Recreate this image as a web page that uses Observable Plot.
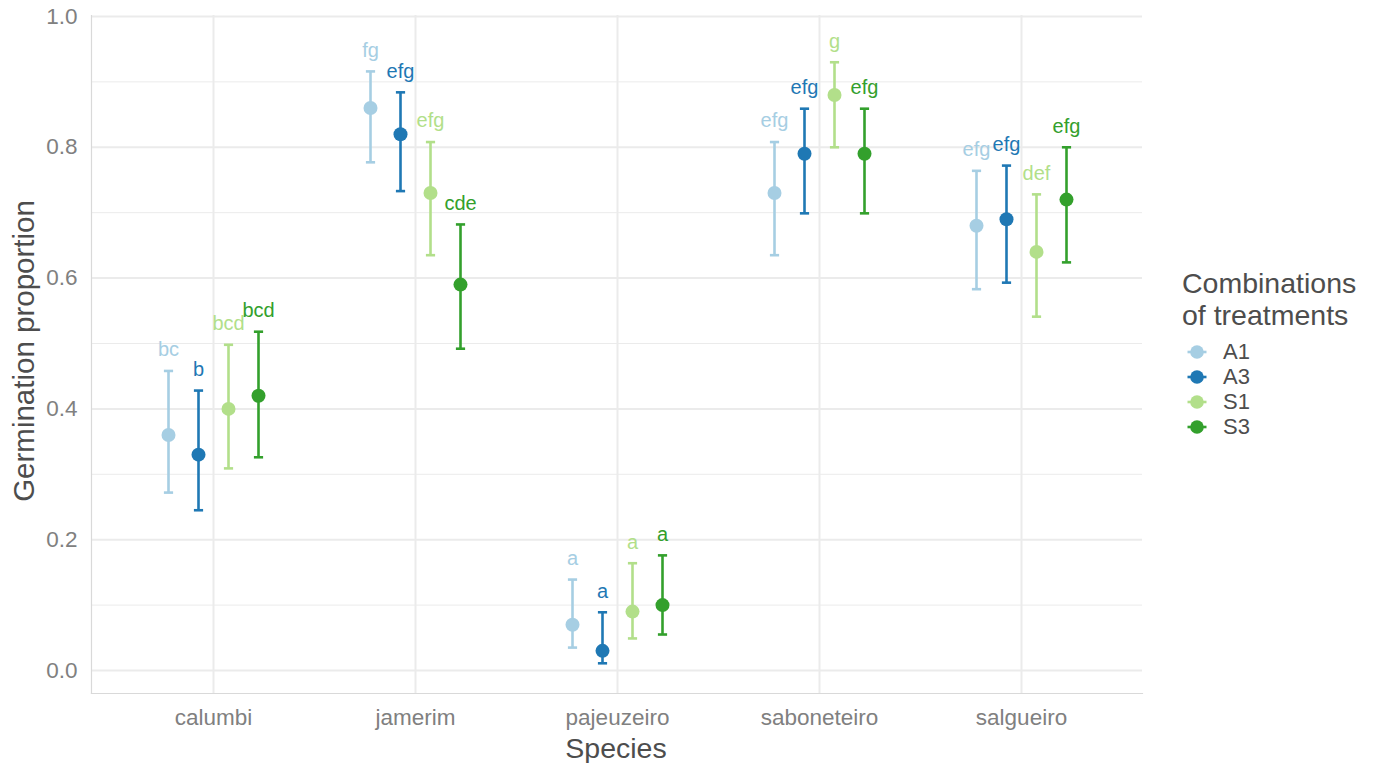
<!DOCTYPE html>
<html>
<head>
<meta charset="utf-8">
<script src="https://cdn.jsdelivr.net/npm/d3@7"></script>
<script src="https://cdn.jsdelivr.net/npm/@observablehq/plot@0.6"></script>
<style>
  html, body { margin: 0; padding: 0; background: #fff; }
  body { font-family: "Liberation Sans", Arial, sans-serif; width: 1378px; height: 763px; position: relative; overflow: hidden; }
  #chart { position: absolute; left: 0; top: 0; }
  #legend { position: absolute; left: 1182px; top: 267px; color: #4d4d4d; }
  #legend .title { font-size: 28.5px; line-height: 32px; margin-bottom: 8.5px; white-space: nowrap; }
  #legend .item { display: flex; align-items: center; height: 25px; font-size: 22px; color: #4d4d4d; }
  #legend svg { margin-left: 4px; margin-right: 15px; }
  #ytitle { position: absolute; left: 24px; top: 351px; transform: translate(-50%, -50%) rotate(-90deg); font-size: 29.5px; color: #4d4d4d; white-space: nowrap; }
  #xtitle { position: absolute; left: 616px; top: 748px; transform: translate(-50%, -50%); font-size: 28.5px; color: #4d4d4d; white-space: nowrap; }
</style>
</head>
<body>
<div id="chart"></div>
<div id="ytitle">Germination proportion</div>
<div id="xtitle">Species</div>
<div id="legend"></div>
<script>
const species = ["calumbi", "jamerim", "pajeuzeiro", "saboneteiro", "salgueiro"];
const treatments = ["A1", "A3", "S1", "S3"];
const colors = ["#a6cee3", "#1f78b4", "#b2df8a", "#33a02c"];

// values per treatment, in species order
const meanA1 = [0.36, 0.86, 0.07, 0.73, 0.68];
const lowA1  = [0.272, 0.777, 0.035, 0.635, 0.583];
const highA1 = [0.458, 0.916, 0.139, 0.808, 0.764];
const letA1  = ["bc", "fg", "a", "efg", "efg"];

const meanA3 = [0.33, 0.82, 0.03, 0.79, 0.69];
const lowA3  = [0.245, 0.733, 0.011, 0.699, 0.593];
const highA3 = [0.428, 0.884, 0.089, 0.859, 0.772];
const letA3  = ["b", "efg", "a", "efg", "efg"];

const meanS1 = [0.40, 0.73, 0.09, 0.88, 0.64];
const lowS1  = [0.309, 0.635, 0.049, 0.80, 0.541];
const highS1 = [0.498, 0.808, 0.164, 0.93, 0.728];
const letS1  = ["bcd", "efg", "a", "g", "def"];

const meanS3 = [0.42, 0.59, 0.10, 0.79, 0.72];
const lowS3  = [0.326, 0.492, 0.055, 0.699, 0.624];
const highS3 = [0.518, 0.682, 0.176, 0.859, 0.80];
const letS3  = ["bcd", "cde", "a", "efg", "efg"];

const yTicks = [0, 0.2, 0.4, 0.6, 0.8, 1.0];
const yMinor = [0.1, 0.3, 0.5, 0.7, 0.9];

const series = {
  A1: [meanA1, lowA1, highA1, letA1],
  A3: [meanA3, lowA3, highA3, letA3],
  S1: [meanS1, lowS1, highS1, letS1],
  S3: [meanS3, lowS3, highS3, letS3]
};

const rows = [];
treatments.forEach(t => {
  const [m, lo, hi, le] = series[t];
  species.forEach((s, i) => rows.push({species: s, treatment: t, mean: m[i], low: lo[i], high: hi[i], letter: le[i]}));
});

const offsets = {A1: -45, A3: -15, S1: 15, S3: 45};
const colorOf = t => colors[treatments.indexOf(t)];

// horizontal cap symbol for error bars
const capSymbol = {
  draw(context) {
    context.moveTo(-4.6, 0);
    context.lineTo(4.6, 0);
  }
};

const marks = [
  Plot.gridY(yMinor, {stroke: "#ebebeb", strokeOpacity: 1, strokeWidth: 1}),
  Plot.gridY(yTicks, {stroke: "#ebebeb", strokeOpacity: 1, strokeWidth: 2}),
  Plot.gridX(species, {stroke: "#ebebeb", strokeOpacity: 1, strokeWidth: 2}),
  Plot.frame({anchor: "left", stroke: "#d9d9d9", strokeWidth: 1.2}),
  Plot.frame({anchor: "bottom", stroke: "#d9d9d9", strokeWidth: 1.2})
];

treatments.forEach(t => {
  const d = rows.filter(r => r.treatment === t);
  const c = colorOf(t);
  const dx = offsets[t];
  marks.push(
    Plot.ruleX(d, {x: "species", y1: "low", y2: "high", stroke: c, strokeWidth: 2.6, dx}),
    Plot.dot(d, {x: "species", y: "low", symbol: capSymbol, stroke: c, fill: "none", strokeWidth: 2.6, dx}),
    Plot.dot(d, {x: "species", y: "high", symbol: capSymbol, stroke: c, fill: "none", strokeWidth: 2.6, dx}),
    Plot.dot(d, {x: "species", y: "mean", r: 7, fill: c, stroke: "none", dx}),
    Plot.text(d, {x: "species", y: "high", text: "letter", fill: c, dx, dy: -21, fontSize: 20})
  );
});

const chart = Plot.plot({
  width: 1150,
  height: 763,
  marginLeft: 91,
  marginRight: 8,
  marginTop: 15,
  marginBottom: 70,
  style: {fontFamily: "Liberation Sans, Arial, sans-serif", background: "white"},
  x: {type: "point", domain: species, padding: 0.6, label: null},
  y: {domain: [-0.0352, 1.0015], label: null},
  marks: [
    ...marks,
    Plot.axisX({tickSize: 0, tickPadding: 16, fill: "#808080", fontSize: 22.5, label: null}),
    Plot.axisY(yTicks, {tickSize: 0, tickPadding: 14, fill: "#808080", fontSize: 22.5, tickFormat: d3.format(".1f"), label: null})
  ]
});
document.getElementById("chart").appendChild(chart);

// legend
const legend = document.getElementById("legend");
const title = document.createElement("div");
title.className = "title";
title.innerHTML = "Combinations<br>of treatments";
legend.appendChild(title);
treatments.forEach((t, i) => {
  const item = document.createElement("div");
  item.className = "item";
  item.innerHTML = `<svg width="22" height="20"><line x1="1.5" x2="20.5" y1="10" y2="10" stroke="${colors[i]}" stroke-width="2.6"/><circle cx="11" cy="10" r="6.8" fill="${colors[i]}"/></svg><span>${t}</span>`;
  legend.appendChild(item);
});
</script>
</body>
</html>
